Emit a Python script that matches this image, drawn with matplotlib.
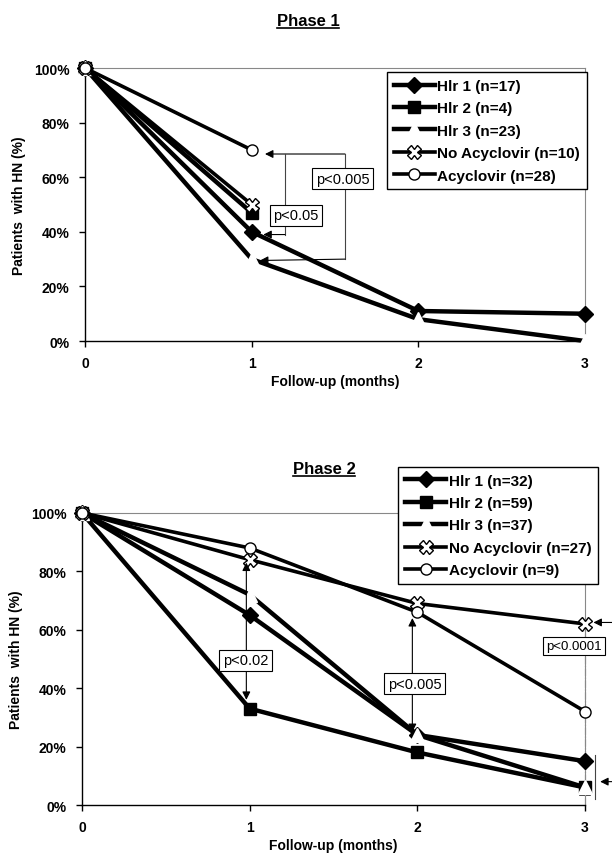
import matplotlib
matplotlib.use('Agg')
import matplotlib.pyplot as plt
from matplotlib.lines import Line2D

plt.rcParams['font.family'] = ['Liberation Sans', 'DejaVu Sans']

# dados
months = [0, 1, 2, 3]
y_ticks = [0, 20, 40, 60, 80, 100]
y_tick_labels = ['0%', '20%', '40%', '60%', '80%', '100%']

# Phase 1
p1_labels = ['Hlr 1 (n=17)', 'Hlr 2 (n=4)', 'Hlr 3 (n=23)', 'No Acyclovir (n=10)', 'Acyclovir (n=28)']
p1_hlr1 = [100, 40, 11, 10]
p1_hlr2 = [100, 47]
p1_hlr3 = [100, 30, 8, 0]
p1_noacy = [100, 50]
p1_acy = [100, 70]

# Phase 2
p2_labels = ['Hlr 1 (n=32)', 'Hlr 2 (n=59)', 'Hlr 3 (n=37)', 'No Acyclovir (n=27)', 'Acyclovir (n=9)']
p2_hlr1 = [100, 65, 24, 15]
p2_hlr2 = [100, 33, 18, 6]
p2_hlr3 = [100, 72, 24, 6]
p2_noacy = [100, 84, 69, 62]
p2_acy = [100, 88, 66, 32]

fig = plt.figure(figsize=(6.12, 8.54), dpi=100)
ax1 = fig.add_axes([0.1389, 0.5995, 0.817, 0.3197])
ax2 = fig.add_axes([0.134, 0.0562, 0.822, 0.342])


def draw_series(ax, hlr1, hlr2, hlr3, noacy, acy, labels):
    # mesma ordem de desenho do Excel: series seguintes ficam por cima
    ax.plot(months[:len(hlr1)], hlr1, color='black', lw=3.2, marker='D', ms=8,
            label=labels[0], clip_on=False, zorder=3)
    ax.plot(months[:len(hlr2)], hlr2, color='black', lw=3.2, marker='s', ms=8,
            label=labels[1], clip_on=False, zorder=4)
    ax.plot(months[:len(hlr3)], hlr3, color='black', lw=3.2, marker='^', ms=10,
            mfc='white', mec='white', label=labels[2], clip_on=False, zorder=5)
    ax.plot(months[:len(noacy)], noacy, color='black', lw=2.6, marker='X', ms=10,
            mfc='white', mec='black', mew=1, label=labels[3], clip_on=False, zorder=6)
    ax.plot(months[:len(acy)], acy, color='black', lw=2.6, marker='o', ms=8,
            mfc='white', mec='black', mew=1, label=labels[4], clip_on=False, zorder=7)


def style_axes(ax):
    ax.set_xlim(0, 3)
    ax.set_ylim(0, 100)
    ax.set_xticks(months)
    ax.set_xticklabels([str(m) for m in months], fontsize=10, fontweight='bold')
    ax.set_yticks(y_ticks)
    ax.set_yticklabels(y_tick_labels, fontsize=10, fontweight='bold')
    ax.tick_params(direction='out', length=4, width=1, pad=7)
    for s in ['top', 'right']:
        ax.spines[s].set_color('#888888')
        ax.spines[s].set_linewidth(0.8)
    for s in ['left', 'bottom']:
        ax.spines[s].set_linewidth(1.0)
    ax.set_xlabel('Follow-up (months)', fontsize=10, fontweight='bold', labelpad=3)
    ax.set_ylabel('Patients  with HN (%)', fontsize=10, fontweight='bold', labelpad=6)


def add_legend(ax, anchor):
    leg = ax.legend(loc='upper right', bbox_to_anchor=anchor, borderaxespad=0,
                    fancybox=False, edgecolor='black', framealpha=1, numpoints=1,
                    prop={'weight': 'bold', 'size': 11}, handlelength=2.7,
                    handletextpad=0.15, labelspacing=0.55, borderpad=0.45)
    leg.get_frame().set_linewidth(1.0)
    leg.set_zorder(20)


def pbox(ax, x, y, s, ha='center', size=10.5):
    ax.text(x, y, s, ha=ha, va='center', fontsize=size, zorder=10,
            bbox=dict(boxstyle='square,pad=0.25', fc='white', ec='black', lw=0.8),
            clip_on=False)


def arrow(ax, tip, tail, style='-|>'):
    ax.annotate('', xy=tip, xytext=tail, annotation_clip=False,
                arrowprops=dict(arrowstyle=style, color='black', lw=0.8,
                                mutation_scale=12, shrinkA=0, shrinkB=0), zorder=9)


# ---- Phase 1 ----
draw_series(ax1, p1_hlr1, p1_hlr2, p1_hlr3, p1_noacy, p1_acy, p1_labels)
style_axes(ax1)
add_legend(ax1, (1.004, 0.985))

# colchetes de significancia
top = p1_acy[1] - 1.5
arrow(ax1, (1.08, top), (1.56, top))
ax1.plot([1.56, 1.56], [top, p1_hlr3[1]], color='#444444', lw=0.8, zorder=9)
arrow(ax1, (1.05, p1_hlr3[1] - 0.5), (1.56, p1_hlr3[1]))
ax1.plot([1.2, 1.2], [top, p1_hlr1[1] - 1], color='#444444', lw=0.8, zorder=9)
arrow(ax1, (1.07, p1_hlr1[1] - 1), (1.2, p1_hlr1[1] - 1))
pbox(ax1, 1.265, 46, 'p<0.05')
pbox(ax1, 1.545, 59.5, 'p<0.005')

# ---- Phase 2 ----
draw_series(ax2, p2_hlr1, p2_hlr2, p2_hlr3, p2_noacy, p2_acy, p2_labels)
style_axes(ax2)
add_legend(ax2, (1.026, 1.158))

arrow(ax2, (0.98, p2_noacy[1] - 1), (0.98, p2_hlr2[1] + 3), style='<|-|>')
arrow(ax2, (1.97, p2_acy[2] - 2), (1.97, p2_hlr1[2] + 1), style='<|-|>')
ax2.plot([3, 3], [0, p2_noacy[3]], color='#444444', lw=0.8, ls='-.', zorder=2, clip_on=False)
ax2.plot([2.97, 3.03], [3.4, 3.4], color='black', lw=1.2, zorder=2, clip_on=False)
pbox(ax2, 0.975, 49.5, 'p<0.02')
pbox(ax2, 1.985, 41.5, 'p<0.005')
pbox(ax2, 2.77, 54.5, 'p<0.0001', ha='left', size=9.5)
arrow(ax2, (3.05, p2_noacy[3] + 0.5), (3.4, p2_noacy[3] + 0.5))
ax2.plot([3.06, 3.06], [2, 17], color='#444444', lw=0.8, clip_on=False)
arrow(ax2, (3.09, 8), (3.4, 8))


# titulos sublinhados
def underlined_title(x, y, s):
    t = fig.text(x, y, s, ha='center', va='center', fontsize=12, fontweight='bold')
    fig.canvas.draw()
    bb = t.get_window_extent().transformed(fig.transFigure.inverted())
    fig.add_artist(Line2D([bb.x0, bb.x1], [bb.y0 + 0.001, bb.y0 + 0.001],
                          transform=fig.transFigure, color='black', lw=1.2))


underlined_title(308 / 612, 1 - 22 / 854, 'Phase 1')
underlined_title(324 / 612, 1 - 470 / 854, 'Phase 2')

fig.savefig('out.png', dpi=100)
